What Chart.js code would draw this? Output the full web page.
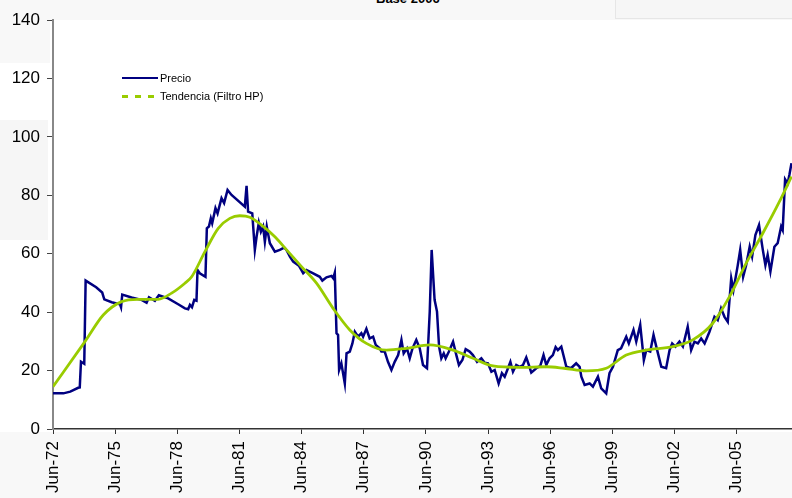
<!DOCTYPE html>
<html>
<head>
<meta charset="utf-8">
<script src="https://cdn.jsdelivr.net/npm/chart.js@4.4.1/dist/chart.umd.min.js"></script>
<style>
  html, body { margin: 0; padding: 0; background: #fff; }
  #wrap { position: relative; width: 792px; height: 498px; overflow: hidden; font-family: "Liberation Sans", Arial, sans-serif; }
  .bg { position: absolute; background: #f8f8f8; }
  #chart { position: absolute; left: 0; top: 0; }
  .legend { position: absolute; left: 122px; font-size: 11px; color: #000; white-space: nowrap; }
  .legend .row { position: relative; height: 18px; width: 200px; }
  .legend .swatch { position: absolute; left: 0; width: 36px; }
  .legend .txt { position: absolute; left: 38px; top: 0; line-height: 14px; }
</style>
</head>
<body>
<div id="wrap">
  <div class="bg" style="left:0;top:0;width:792px;height:20px;"></div>
  <div class="bg" style="left:0;top:0;width:50px;height:63px;"></div>
  <div class="bg" style="left:0;top:120px;width:48px;height:120px;background:#f6f6f6;"></div>
  <div class="bg" style="left:0;top:432px;width:792px;height:66px;"></div>
  <div class="bg" style="left:615px;top:0;width:177px;height:18px;border-left:1px solid #e6e6e6;border-bottom:1px solid #e6e6e6;background:#f6f6f6;"></div>
  <div style="position:absolute;left:376px;top:-9px;font-size:13px;font-weight:bold;">Base 2006</div>
  <canvas id="chart" width="792" height="498"></canvas>
  <div class="legend" style="top:71px;">
    <div class="row">
      <div class="swatch" style="top:6px;height:2px;background:#000080;"></div>
      <div class="txt">Precio</div>
    </div>
    <div class="row">
      <div class="swatch" style="top:6px;height:3px;background:repeating-linear-gradient(90deg,#99cc00 0 6px,transparent 6px 13px);"></div>
      <div class="txt">Tendencia (Filtro HP)</div>
    </div>
  </div>
</div>
<script>
// months counted from Jun-72
const xTickLabels = ['Jun-72', 'Jun-75', 'Jun-78', 'Jun-81', 'Jun-84', 'Jun-87', 'Jun-90', 'Jun-93', 'Jun-96', 'Jun-99', 'Jun-02', 'Jun-05'];
const yTicks = [0, 20, 40, 60, 80, 100, 120, 140];

const priceMonths = [0, 6, 10, 14.6, 15.5, 16.2, 18.1, 18.9, 25, 28.5, 29.7, 34, 38.8, 39.4, 40.1, 45.5, 51.3, 54.2, 55.6, 59, 61.3, 66.7, 72.5, 76.4,
  78.3, 79.3, 80.5, 81.8, 83.1, 83.7, 85, 88.3, 89.1, 90.3, 91.4, 92.2, 94.1, 95.3, 97.6, 99.1, 101.1, 103.4, 111.1, 112.1, 113, 115.4,
  116.9, 117.9, 119.2, 120.4, 121.7, 122.7, 123.8, 125.6, 128.5, 131.4, 133.9, 135.2, 137.2, 139.1, 142.4, 144.9, 146.8, 150.7, 154.5,
  156, 158.4, 161.3, 162.3, 163.2, 164.2, 165.1, 165.7, 167, 169, 170, 171.9, 173.4, 174.8, 176.7, 178.6, 179.6, 181.5, 183.4, 185.4,
  186.9, 189.2, 190.2, 192.1, 194, 196, 197.9, 199.9, 201.8, 203.1, 205, 206.6, 208.2, 210.4, 212.4, 214.3, 216.6, 218.2, 219.3, 221,
  222.4, 223.6, 224.9, 226.3, 227.4, 229.3, 231.7, 233.6, 235.1, 237.1, 239, 241.3, 243.2, 245.6, 248.1, 250, 251.9, 253.9, 255.8,
  258.1, 260, 261.6, 263.5, 264.9, 266.4, 268.3, 270.3, 272.2, 274.1, 275.6, 277, 279.9, 282.2, 284.1, 285.7, 287.6, 289.5, 291.1,
  292.4, 294.4, 297.3, 300, 303, 305, 306, 307.9, 310.8, 312.7, 315.6, 317.5, 320.4, 322.3, 324.3, 327.1, 329, 332, 333.5, 336.2,
  337.8, 340.1, 342.2, 343.6, 345.9, 347.8, 349.4, 352.3, 355.1, 357.1, 358.6, 360.5, 362.8, 364.8, 367.6, 369.6, 371.5, 373.5,
  375.4, 377.4, 380.2, 383.1, 385, 386.9, 388.9, 390.8, 392.8, 394.1, 396.6, 398, 399.7, 401.4, 403.5, 404.9, 406.8, 408.9, 411.1,
  412.6, 413.9, 415.5, 417.8, 419.7, 421.7, 422.6, 424, 425.5, 426.5, 427.7];
const priceValues = [12.2, 12.2, 12.8, 14.1, 14.2, 23, 22.3, 50.8, 48.5, 46.7, 44.4, 43.4, 42.7, 41.7, 46.0, 45.0, 44.2, 43.2, 45.1, 43.9, 45.8, 44.7, 42.7, 41.3,
  41.0, 42.5, 41.7, 44.2, 43.9, 54.4, 53.3, 52.1, 68.7, 69.3, 72.1, 70.4, 75.6, 73.8, 79.0, 77.3, 81.8, 80.1, 76.1, 83.2, 74.4, 73.8,
  61.3, 65.8, 70.6, 67.5, 69.3, 64.1, 69.3, 63.6, 60.7, 61.3, 62.1, 61.3, 59.0, 57.3, 55.9, 53.3, 54.4, 53.3, 52.1,
  50.8, 51.9, 52.4, 51.6, 53.5, 32.8, 32.2, 20.2, 22.5, 15.6, 25.9, 26.5, 29.3, 33.3, 31.6, 32.8, 31.6, 34.3, 31.0, 31.6,
  28.8, 27.6, 26.5, 26.5, 23.0, 20.2, 23.0, 25.3, 30.5, 25.9, 27.6, 24.2, 27.6, 30.5, 27.6, 21.9, 20.8, 40.2, 61.3, 44.2,
  40.2, 28.2, 24.2, 25.9, 24.2, 26.5, 29.9, 25.3, 21.9, 23.6, 27.3, 26.5, 25.3, 23.0, 24.2, 22.7, 22.5, 19.6, 20.2,
  15.6, 19.1, 17.9, 20.8, 23.0, 19.6, 21.9, 21.3, 21.9, 24.5, 21.9, 19.3, 20.8, 21.6, 25.3, 21.9, 24.2, 25.3, 28.0,
  27.0, 28.2, 21.3, 20.8, 22.5, 21.3, 17.9, 15.1, 15.6, 14.5, 17.9, 13.9, 12.2, 19.1, 21.3, 27.0, 27.6, 31.6, 29.3, 33.9,
  29.9, 35.6, 23.6, 27.0, 26.5, 32.2, 28.2, 21.3, 20.8, 27.0, 29.3, 28.2, 29.9, 28.2, 35.0, 27.0, 29.9, 29.3,
  31.0, 29.3, 33.3, 38.4, 37.3, 41.3, 38.4, 36.7, 51.6, 47.6, 56.1, 61.3, 52.1, 56.0, 62.4, 59.0, 66.4, 69.8, 61.3,
  56.1, 59.6, 53.9, 62.4, 63.6, 69.3, 68.1, 85.5, 84.1, 87.0, 91.0];

const trendMonths = [0, 18.5, 29.1, 39.7, 49.4, 61, 68.7, 76.4, 80.3, 88, 95.7, 102.4, 108.2, 114, 120.8, 128.5, 136.2, 143.9, 152.6,
  162.2, 171.9, 181.5, 193.1, 204.7, 218.2, 231.7, 243.2, 254.8, 270.3, 285.7, 296, 308.8, 320.4, 332, 343.6, 359, 370.5, 382.1,
  391.8, 401.4, 411.1, 420.7, 427.7];
const trendValues = [14.5, 29.9, 39.0, 43.6, 44.4, 44.4, 46.5, 49.9, 52.1, 60.7, 68.7, 72.1, 73.0, 72.5, 69.8, 65.8, 60.7, 55.6, 49.9,
  41.3, 33.9, 29.3, 27.0, 27.6, 28.8, 27.0, 24.2, 21.6, 21.1, 21.3, 20.8, 19.9, 20.8, 25.3, 27.0, 28.2, 30.5, 36.2,
  45.3, 56.7, 67.0, 77.8, 86.4];

const toPoints = (xs, ys) => xs.map((x, i) => ({ x: x, y: ys[i] }));

// white plot area over the grey slide background
const plotBg = {
  id: 'plotBg',
  beforeDraw(chart) {
    const a = chart.chartArea;
    chart.ctx.save();
    chart.ctx.fillStyle = '#ffffff';
    chart.ctx.fillRect(a.left, a.top, a.right - a.left, a.bottom - a.top + 2);
    chart.ctx.restore();
  }
};

new Chart(document.getElementById('chart'), {
  type: 'line',
  data: {
    datasets: [
      {
        label: 'Tendencia (Filtro HP)',
        data: toPoints(trendMonths, trendValues),
        borderColor: '#99cc00',
        borderWidth: 2.8,
        pointRadius: 0,
        cubicInterpolationMode: 'monotone',
        order: 1
      },
      {
        label: 'Precio',
        data: toPoints(priceMonths, priceValues),
        borderColor: '#000080',
        borderWidth: 2.5,
        pointRadius: 0,
        tension: 0,
        order: 2
      }
    ]
  },
  options: {
    responsive: false,
    animation: false,
    layout: { padding: { top: 20, right: 0, left: 0, bottom: 0 } },
    plugins: { legend: { display: false }, tooltip: { enabled: false } },
    scales: {
      x: {
        type: 'linear',
        min: 0, max: 428,
        afterFit: (s) => { s.height = 69; },
        afterBuildTicks: (s) => { s.ticks = xTickLabels.map((_, i) => ({ value: i * 36 })); },
        border: { color: '#333', width: 1.5 },
        grid: { drawOnChartArea: false, tickLength: 5, color: '#333' },
        ticks: {
          minRotation: 90, maxRotation: 90, padding: 7, color: '#000',
          font: { family: '"Liberation Sans", Arial', size: 17 },
          callback: (v) => xTickLabels[Math.round(v / 36)]
        }
      },
      y: {
        min: 0, max: 140,
        afterFit: (s) => { s.width = 53; },
        afterBuildTicks: (s) => { s.ticks = yTicks.map(v => ({ value: v })); },
        border: { color: '#888', width: 2 },
        grid: { drawOnChartArea: false, tickLength: 6, color: '#444' },
        ticks: {
          padding: 7, color: '#000',
          font: { family: '"Liberation Sans", Arial', size: 17 }
        }
      }
    }
  },
  plugins: [plotBg]
});
</script>
</body>
</html>
